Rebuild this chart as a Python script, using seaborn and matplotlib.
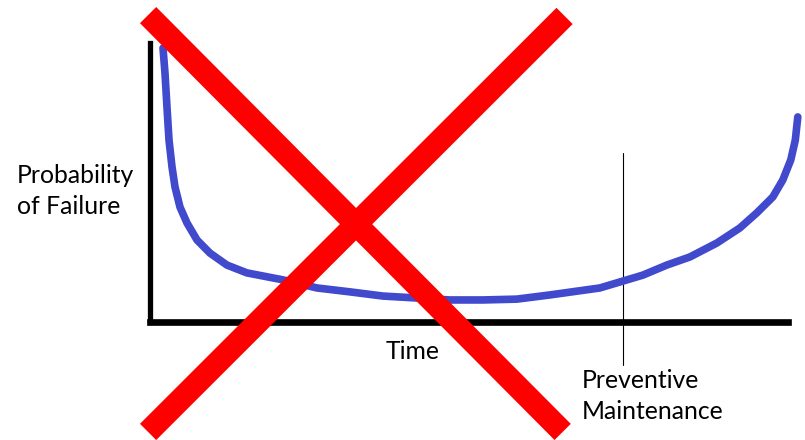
import matplotlib
matplotlib.use('Agg')
import matplotlib.pyplot as plt
import seaborn as sns
import pandas as pd

# Bathtub curve (time 0-100 along the axis, probability 0-100 up the axis)
time_pts = [2.04, 2.35, 2.66, 2.98, 3.45, 3.92, 4.70, 5.80, 7.37, 9.40, 12.07,
            15.20, 20.85, 26.18, 31.35, 36.52, 41.85, 47.02, 52.19, 57.52, 62.70,
            70.53, 77.27, 81.03, 84.64, 88.87, 92.48, 95.14, 97.65, 99.22, 100.47,
            101.18, 101.57]
prob_pts = [98.2, 89.2, 77.1, 65.2, 55.6, 48.4, 41.2, 35.5, 29.4, 24.7, 20.4,
            17.6, 15.1, 12.2, 10.8, 9.3, 8.6, 7.9, 7.9, 8.2, 9.7,
            12.2, 16.8, 20.4, 23.3, 28.3, 33.7, 39.1, 44.8, 50.9, 58.1,
            65.2, 73.5]

# Preventive maintenance marker
pm_time = 74.1
pm_span = [60.6, -15.4]

# Big red cross over the chart (two strokes: time ends, probability ends)
cross_a_t = [-0.3, 64.7]
cross_a_p = [110.0, -39.4]
cross_b_t = [65.0, -0.3]
cross_b_p = [109.7, -39.4]

y_label = 'Probability\nof Failure'
x_label = 'Time'
pm_label = 'Preventive\nMaintenance'

BLUE = '#4149CD'
RED = '#FF0000'
FS = 17.8


def main():
    sns.set_style('white')
    plt.rcParams['font.family'] = ['Lato', 'DejaVu Sans']

    fig = plt.figure(figsize=(8.05, 4.40), dpi=100)
    ax = fig.add_axes([150 / 805, 118 / 440, 655 / 805, 279 / 440])

    df = pd.DataFrame({'time': time_pts, 'prob': prob_pts})
    sns.lineplot(data=df, x='time', y='prob', ax=ax, color=BLUE, lw=5.5,
                 sort=False, solid_capstyle='round', solid_joinstyle='round',
                 clip_on=False, zorder=3)

    ax.set_xlim(0, 102.7)
    ax.set_ylim(0, 100)
    ax.set_xticks([])
    ax.set_yticks([])
    ax.set_xlabel('')
    ax.set_ylabel('')

    for side in ['top', 'right']:
        ax.spines[side].set_visible(False)
    ax.spines['left'].set_linewidth(3.8)
    ax.spines['bottom'].set_linewidth(4.8)
    ax.spines['left'].set_color('black')
    ax.spines['bottom'].set_color('black')
    ax.spines['bottom'].set_bounds(0, 100)

    # thin maintenance line
    ax.plot([pm_time, pm_time], pm_span, color='black', lw=0.8, clip_on=False, zorder=2)

    # labels
    ax.text(-20.85, 56.6, y_label, fontsize=FS, ha='left', va='top',
            linespacing=1.42, color='black')
    ax.text(41.1, -6.3, x_label, fontsize=FS, ha='center', va='top', color='black')
    ax.text(67.7, -17.0, pm_label, fontsize=FS, ha='left', va='top',
            linespacing=1.42, color='black')

    # red cross on top
    ax.plot(cross_a_t, cross_a_p, color=RED, lw=16.5, solid_capstyle='butt',
            clip_on=False, zorder=5)
    ax.plot(cross_b_t, cross_b_p, color=RED, lw=16.5, solid_capstyle='butt',
            clip_on=False, zorder=5)

    fig.savefig('out.png', dpi=100)


if __name__ == '__main__':
    main()
